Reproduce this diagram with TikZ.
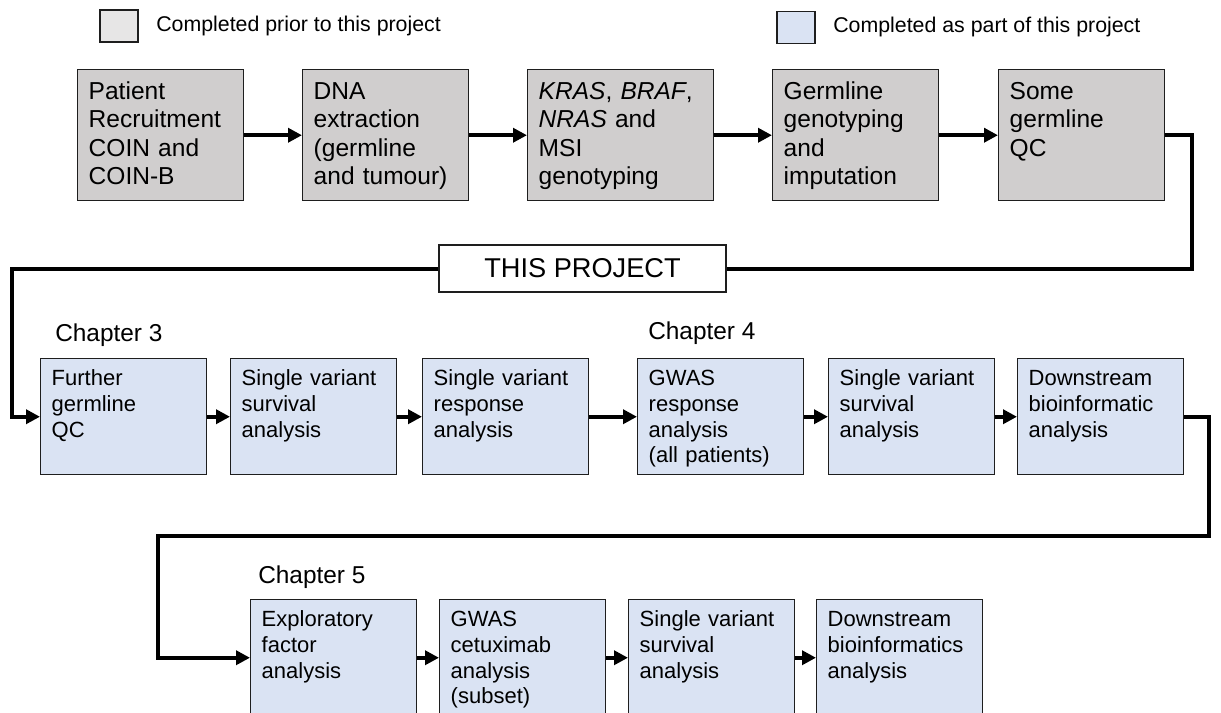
\documentclass[tikz,border=0pt]{standalone}
\usepackage{fontspec}
\setmainfont{Liberation Sans}
\usetikzlibrary{arrows.meta}
\definecolor{priorgray}{HTML}{D0CECE}
\definecolor{keygray}{HTML}{E7E6E6}
\definecolor{projblue}{HTML}{DAE3F3}
\definecolor{edgegray}{HTML}{1E1E1E}
\def\bigtext{\fontsize{18.4pt}{21.2pt}\selectfont}
\def\smalltext{\fontsize{16.5pt}{19.4pt}\selectfont}
\def\keytext{\fontsize{16pt}{19pt}\selectfont}
\def\chaptext{\fontsize{18.3pt}{21pt}\selectfont}
\def\projtext{\fontsize{20.4pt}{24pt}\selectfont}

\begin{document}
\begin{tikzpicture}[x=0.75pt, y=-0.75pt,
		stage/.style={draw=edgegray, line width=1.1pt, anchor=north west, align=left, inner xsep=8.25pt, inner ysep=0pt},
		prior/.style={stage, fill=priorgray, font=\bigtext, text width=108pt, text height=22.5pt, text depth=75.75pt},
		ours/.style={stage, fill=projblue, font=\smalltext, text width=108pt, text height=19.9pt, text depth=67.1pt},
		keybox/.style={draw=edgegray, line width=1.1pt, minimum width=28.5pt, minimum height=24pt, inner sep=0pt},
		flow/.style={line width=3pt, -{Triangle[length=10.5pt, width=10.5pt]}},
		link/.style={line width=3pt}]
			%%%%% START %%%%%
			\useasboundingbox (0,0) rectangle (1221,713);
			\clip (0,0) rectangle (1221,713);
			
			% key
			\node[keybox, fill=keygray] (keyprior) at (119,26) {};
			\node[anchor=base west, inner sep=0pt, font=\keytext] (keypriortext) at (156,32) {Completed prior to this project};
			\node[keybox, fill=projblue] (keyours) at (796,27.5) {};
			\node[anchor=base west, inner sep=0pt, font=\keytext] (keyourstext) at (833,33) {Completed as part of this project};
			
			% done before
			\node[prior] (s1) at (77,69) {Patient\\Recruitment\\COIN and\\COIN-B};
			\node[prior] (s2) at (302,69) {DNA\\extraction\\(germline\\and tumour)};
			\node[prior, text width=123pt] (s3) at (527,69) {\textit{KRAS}, \textit{BRAF},\\\textit{NRAS} and\\MSI\\genotyping};
			\node[prior] (s4) at (772,69) {Germline\\genotyping\\and\\imputation};
			\node[prior] (s5) at (998,69) {Some\\germline\\QC};
			
			\draw[flow] (s1.east) -- (s2.west);
			\draw[flow] (s2.east) -- (s3.west);
			\draw[flow] (s3.east) -- (s4.west);
			\draw[flow] (s4.east) -- (s5.west);
			
			\node[draw=edgegray, line width=1.1pt, fill=white, minimum width=215pt, minimum height=35pt, inner sep=0pt, font=\projtext] (proj) at (582.5,268.5) {THIS PROJECT};
			
			% chapters 3 and 4
			\node[anchor=base west, inner sep=0pt, font=\chaptext] (ch3) at (55,341) {Chapter 3};
			\node[anchor=base west, inner sep=0pt, font=\chaptext] (ch4) at (648,339) {Chapter 4};
			
			\node[ours] (r21) at (40,358) {Further\\germline\\QC};
			\node[ours] (r22) at (230,358) {Single variant\\survival\\analysis};
			\node[ours] (r23) at (422,358) {Single variant\\response\\analysis};
			\node[ours] (r24) at (637,358) {GWAS\\response\\analysis\\(all patients)};
			\node[ours] (r25) at (828,358) {Single variant\\survival\\analysis};
			\node[ours] (r26) at (1017,358) {Downstream\\bioinformatic\\analysis};
			
			\coordinate (turnA) at (1192,200);
			\coordinate (turnB) at (12,300);
			\draw[link] (s5.east) -| (turnA) |- (proj.east);
			\draw[flow] (proj.west) -| (turnB) |- (r21.west);
			
			\draw[flow] (r21.east) -- (r22.west);
			\draw[flow] (r22.east) -- (r23.west);
			\draw[flow] (r23.east) -- (r24.west);
			\draw[flow] (r24.east) -- (r25.west);
			\draw[flow] (r25.east) -- (r26.west);
			
			% chapter 5
			\node[anchor=base west, inner sep=0pt, font=\chaptext] (ch5) at (258,583) {Chapter 5};
			
			\node[ours] (r31) at (250,599) {Exploratory\\factor\\analysis};
			\node[ours] (r32) at (439,599) {GWAS\\cetuximab\\analysis\\(subset)};
			\node[ours] (r33) at (628,599) {Single variant\\survival\\analysis};
			\node[ours] (r34) at (816,599) {Downstream\\bioinformatics\\analysis};
			
			\coordinate (turnC) at (1209,536);
			\coordinate (turnD) at (158,536);
			\draw[flow] (r26.east) -| (turnC) -- (turnD) |- (r31.west);
			
			\draw[flow] (r31.east) -- (r32.west);
			\draw[flow] (r32.east) -- (r33.west);
			\draw[flow] (r33.east) -- (r34.west);
			%%%%% END %%%%%
\end{tikzpicture}
\end{document}
